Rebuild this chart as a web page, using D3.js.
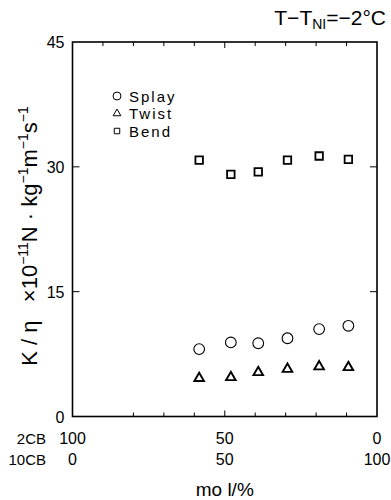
<!DOCTYPE html>
<html>
<head>
<meta charset="utf-8">
<script src="https://cdn.jsdelivr.net/npm/d3@7"></script>
<style>
  html, body { margin: 0; padding: 0; background: #fff; }
  svg { display: block; }
  text { font-family: "Liberation Sans", Arial, sans-serif; fill: #000; }
</style>
</head>
<body>
<svg id="chart" width="391" height="500"></svg>
<script>
// 10CB content (mol%) of each mixture
const mol10CB = [41.6, 52, 61, 70.6, 81, 90.6];
// K/η in 10^-11 N·kg^-1·m^-1·s^-1
const splay = [8.1, 8.9, 8.8, 9.4, 10.5, 10.9];
const twist = [4.6, 4.7, 5.3, 5.7, 6.0, 5.9];
const bend  = [30.8, 29.1, 29.4, 30.8, 31.3, 30.9];

const yTicks = [0, 15, 30, 45];
const xMinorTicks = [10, 20, 30, 40, 50, 60, 70, 80, 90];
const row2CB   = ["100", "50", "0"];
const row10CB  = ["0", "50", "100"];
const rowPos   = [0, 50, 100];

const svg = d3.select("#chart");
const L = 72.5, R = 377, T = 42, B = 416.5;

const x = d3.scaleLinear().domain([0, 100]).range([L, R]);
const y = d3.scaleLinear().domain([0, 45]).range([B, T]);

// frame
svg.append("rect")
  .attr("x", L).attr("y", T).attr("width", R - L).attr("height", B - T)
  .attr("fill", "none").attr("stroke", "#000").attr("stroke-width", 1.6);

// inward ticks on all sides
const g = svg.append("g").attr("stroke", "#000").attr("stroke-width", 1);
xMinorTicks.forEach(v => {
  const len = v === 50 ? 6 : 4;
  g.append("line").attr("x1", x(v)).attr("x2", x(v)).attr("y1", T).attr("y2", T + len);
  if (v !== 10) g.append("line").attr("x1", x(v)).attr("x2", x(v)).attr("y1", B).attr("y2", B - len);
});
yTicks.slice(1, -1).forEach(v => {
  g.append("line").attr("x1", L).attr("x2", L + 7).attr("y1", y(v)).attr("y2", y(v));
  g.append("line").attr("x1", R).attr("x2", R - 7).attr("y1", y(v)).attr("y2", y(v));
});

// y tick labels
svg.append("g").selectAll("text").data(yTicks).join("text")
  .attr("x", L - 8).attr("y", d => y(d) + 6)
  .attr("text-anchor", "end").attr("font-size", 16)
  .text(d => d);

// composition rows under the x axis
svg.append("text").attr("x", 46).attr("y", 444).attr("text-anchor", "end")
  .attr("font-size", 15).text("2CB");
svg.append("text").attr("x", 46).attr("y", 465).attr("text-anchor", "end")
  .attr("font-size", 15).text("10CB");
svg.append("g").selectAll("text").data(rowPos).join("text")
  .attr("x", d => x(d)).attr("y", 444).attr("text-anchor", "middle").attr("font-size", 16)
  .text((d, i) => row2CB[i]);
svg.append("g").selectAll("text").data(rowPos).join("text")
  .attr("x", d => x(d)).attr("y", 465).attr("text-anchor", "middle").attr("font-size", 16)
  .text((d, i) => row10CB[i]);

// x axis title
svg.append("text").attr("x", x(50)).attr("y", 496).attr("text-anchor", "middle")
  .attr("font-size", 19).style("white-space", "pre").text("mo l/%");

// header
const hdr = svg.append("text").attr("x", 386).attr("y", 25).attr("text-anchor", "end")
  .attr("font-size", 21);
hdr.append("tspan").text("T−T");
hdr.append("tspan").attr("font-size", 14).attr("dy", 4).text("NI");
hdr.append("tspan").attr("dy", -4).text("=−2°C");

// y axis title (rotated)
const yt = svg.append("text")
  .attr("transform", `translate(37,236) rotate(-90)`)
  .attr("text-anchor", "middle").attr("font-size", 22)
  .style("white-space", "pre");
yt.append("tspan").text("K / η   ×10");
yt.append("tspan").attr("font-size", 14).attr("dy", -9).text("−11");
yt.append("tspan").attr("dy", 9).text("N · kg");
yt.append("tspan").attr("font-size", 14).attr("dy", -9).text("−1");
yt.append("tspan").attr("dy", 9).text("m");
yt.append("tspan").attr("font-size", 14).attr("dy", -9).text("−1");
yt.append("tspan").attr("dy", 9).text("s");
yt.append("tspan").attr("font-size", 14).attr("dy", -9).text("−1");

// markers
const sym = {
  circle: d3.symbol().type(d3.symbolCircle).size(90),
  triangle: d3.symbol().type(d3.symbolTriangle).size(40),
  square: d3.symbol().type(d3.symbolSquare).size(56)
};
const series = [
  { name: "Splay", vals: splay, shape: "circle", sw: 1.1 },
  { name: "Twist", vals: twist, shape: "triangle", sw: 1.9 },
  { name: "Bend",  vals: bend,  shape: "square", sw: 1.8 }
];
series.forEach(s => {
  svg.append("g").selectAll("path").data(s.vals).join("path")
    .attr("d", sym[s.shape])
    .attr("transform", (d, i) => `translate(${x(mol10CB[i])},${y(d)})`)
    .attr("fill", "none").attr("stroke", "#000").attr("stroke-width", s.sw);
});

// legend
const leg = svg.append("g");
const legSym = {
  circle: d3.symbol().type(d3.symbolCircle).size(50),
  triangle: d3.symbol().type(d3.symbolTriangle).size(26),
  square: d3.symbol().type(d3.symbolSquare).size(30)
};
series.forEach((s, i) => {
  const cy = 96 + i * 17.5;
  leg.append("path").attr("d", legSym[s.shape])
    .attr("transform", `translate(117,${cy})`)
    .attr("fill", "none").attr("stroke", "#000").attr("stroke-width", 1);
  leg.append("text").attr("x", 129).attr("y", cy + 5.5)
    .attr("font-size", 15).attr("letter-spacing", 2).text(s.name);
});
</script>
</body>
</html>
